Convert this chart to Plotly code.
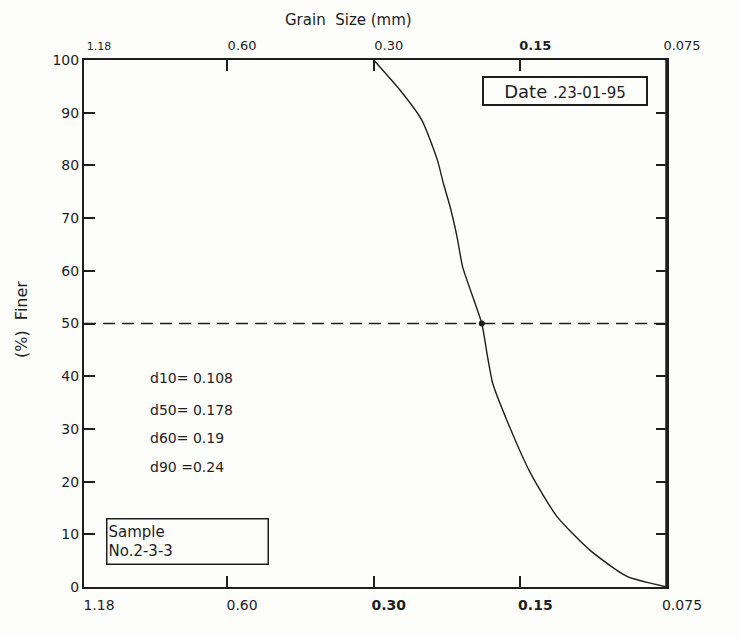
import math
import plotly.graph_objects as go

# ---- data ----
grain_size = [0.30, 0.265, 0.239, 0.222, 0.216, 0.209, 0.2023, 0.197, 0.180, 0.1754, 0.171, 0.160, 0.143, 0.126, 0.108, 0.0906, 0.075]
pct_finer = [100, 94.3, 88.6, 81, 76.7, 72.1, 66.4, 60.7, 50, 44.0, 38.7, 31.7, 21.6, 13.3, 7, 2, 0]
d50_point = (0.180, 50)

tick_vals = [1.18, 0.60, 0.30, 0.15, 0.075]
bottom_labels = ["1.18", "0.60", "<b>0.30</b>", "<b>0.15</b>", "0.075"]
top_labels = ["<span style='font-size:11px'>1.18</span>", "0.60", "0.30", "<b>0.15</b>", "0.075"]
y_ticks = [0, 10, 20, 30, 40, 50, 60, 70, 80, 90, 100]

d_lines = ["d10= 0.108", "d50= 0.178", "d60= 0.19", "d90 =0.24"]
d_text_y = [39.7, 33.6, 28.3, 22.8]
date_text = "Date <span style='font-size:15px'>.23-01-95</span>"
sample_text = "Sample<br>No.2-3-3"

INK = "#1e1e1e"
BG = "#fdfdfb"
FONT = "DejaVu Sans"
xr = [math.log10(1.18), math.log10(0.075)]

fig = go.Figure()
fig.add_trace(go.Scatter(x=grain_size, y=pct_finer, mode="lines",
                         line=dict(color=INK, width=1.4, shape="spline", smoothing=0.6),
                         showlegend=False, hoverinfo="skip"))
fig.add_trace(go.Scatter(x=[d50_point[0]], y=[d50_point[1]], mode="markers",
                         marker=dict(color=INK, size=6), showlegend=False, hoverinfo="skip"))
fig.add_trace(go.Scatter(x=grain_size, y=pct_finer, xaxis="x2", mode="markers",
                         marker=dict(opacity=0), showlegend=False, hoverinfo="skip"))

# 50% dashed line
fig.add_shape(type="line", xref="paper", yref="y", x0=0, x1=1, y0=50, y1=50,
              line=dict(color=INK, width=1.7, dash="12px,7px"))
# heavy right border
fig.add_shape(type="line", xref="paper", yref="paper", x0=1, x1=1, y0=0, y1=1,
              line=dict(color=INK, width=3.5))

fig.update_layout(
    width=740, height=638,
    margin=dict(l=84, r=73, t=60, b=51),
    paper_bgcolor=BG, plot_bgcolor=BG,
    font=dict(family=FONT, color=INK, size=13),
    xaxis=dict(type="log", range=xr, tickvals=tick_vals, ticktext=bottom_labels,
               ticks="inside", ticklen=11, tickwidth=2, tickcolor=INK,
               showline=True, linecolor=INK, linewidth=2, mirror="ticks",
               showgrid=False, zeroline=False, ticklabelshift=-15, ticklabelstandoff=4,
               tickfont=dict(size=14, family=FONT, color=INK)),
    xaxis2=dict(type="log", range=xr, overlaying="x", side="top",
                tickvals=tick_vals, ticktext=top_labels, ticks="", showline=False,
                showgrid=False, zeroline=False, ticklabelshift=-15, ticklabelstandoff=6,
                tickfont=dict(size=13, family=FONT, color=INK)),
    yaxis=dict(range=[0, 100], tickvals=y_ticks, ticks="inside", ticklen=11,
               tickwidth=2, tickcolor=INK, showline=True, linecolor=INK, linewidth=2,
               mirror="ticks", showgrid=False, zeroline=False,
               tickfont=dict(size=14, family=FONT, color=INK)),
)

fig.add_annotation(text="Grain  Size (mm)", xref="paper", yref="paper", x=0.453, y=1.076,
                   xanchor="center", yanchor="middle", showarrow=False,
                   font=dict(size=15, family=FONT, color=INK))
fig.add_annotation(text="(%)  Finer", xref="paper", yref="paper", x=-0.106, y=0.507,
                   xanchor="center", yanchor="middle",
                   textangle=-90, showarrow=False, font=dict(size=16, family=FONT, color=INK))

for t, yv in zip(d_lines, d_text_y):
    fig.add_annotation(text=t, xref="paper", yref="y", x=0.11, y=yv,
                       xanchor="left", yanchor="middle", showarrow=False,
                       font=dict(size=14, family=FONT, color=INK))

fig.add_annotation(text=date_text, xref="paper", yref="paper", x=0.825, y=0.941,
                   xanchor="center", yanchor="middle", width=158, height=22,
                   showarrow=False, bordercolor=INK, borderwidth=2, borderpad=2,
                   bgcolor=BG, font=dict(size=18, family=FONT, color=INK))
fig.add_annotation(text=sample_text, xref="paper", yref="paper", x=0.038, y=0.087,
                   xanchor="left", yanchor="middle",
                   showarrow=False, align="left", width=158, height=42,
                   bordercolor=INK, borderwidth=1.5, borderpad=1,
                   bgcolor=BG, font=dict(size=15, family=FONT, color=INK))

fig.write_html("out.html")
